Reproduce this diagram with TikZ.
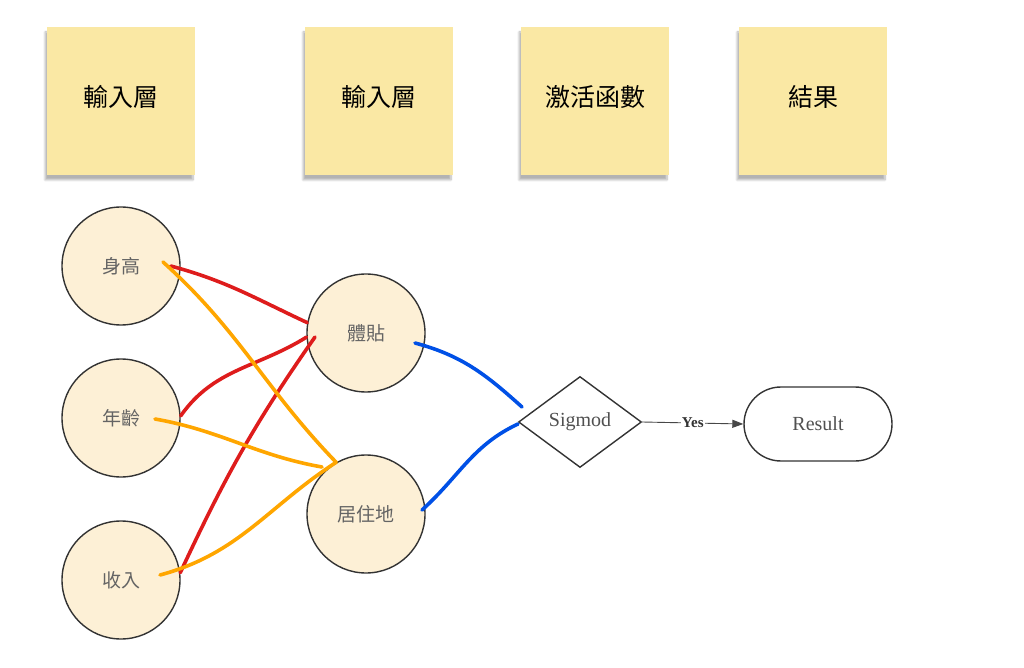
\documentclass[tikz,border=0pt]{standalone}
\usepackage{fontspec}
\setmainfont{Liberation Serif}
\newfontfamily\cjk{Noto Sans CJK TC}
\usetikzlibrary{shapes.geometric,arrows.meta,shadows.blur}
\definecolor{notefill}{RGB}{250,232,164}
\definecolor{cellfill}{RGB}{253,240,214}
\definecolor{edge}{RGB}{51,51,51}
\definecolor{inktext}{RGB}{100,100,100}
\definecolor{redink}{RGB}{222,28,28}
\definecolor{orangeink}{RGB}{255,166,0}
\definecolor{blueink}{RGB}{0,80,230}
\begin{document}
\begin{tikzpicture}[
  x=1pt, y=1pt,
  note/.style={fill=notefill, minimum width=148pt, minimum height=148pt, inner sep=0pt,
    blur shadow={shadow blur steps=8, shadow xshift=-2pt, shadow yshift=-5pt, shadow opacity=30}},
  notetext/.style={font=\cjk\fontsize{25}{30}\selectfont, yshift=4pt},
  neuron/.style={circle, draw=edge, line width=1.4pt, fill=cellfill, minimum size=118pt,
    inner sep=0pt, text=inktext, font=\cjk\fontsize{19}{23}\selectfont},
  decide/.style={diamond, draw=edge, line width=1.4pt, fill=white, minimum width=123pt,
    minimum height=91pt, inner sep=0pt, text=inktext!80!black, font=\fontsize{20}{24}\selectfont},
  term/.style={draw=edge, line width=1.4pt, rounded corners=37pt, minimum width=148pt,
    minimum height=74pt, text=inktext!80!black, font=\fontsize{20}{24}\selectfont},
  wire/.style={line width=3.6pt, line cap=round}
]
\useasboundingbox (0,0) rectangle (1024,667);

% ---- sticky notes ----
\foreach \x/\lab/\nm in {121/輸入層/n1, 379/輸入層/n2, 595/激活函數/n3, 813/結果/n4}
{
  \node[note, label={[notetext]center:\lab}] (\nm) at (\x,566) {};
}

% ---- neurons ----
\node[neuron] (h1) at (121,401) {身高};
\node[neuron] (h2) at (121,249) {年齡};
\node[neuron] (h3) at (121,87)  {收入};
\node[neuron] (t1) at (366,334) {體貼};
\node[neuron] (t2) at (366,153) {居住地};

% ---- output ----
\node[decide] (sig) at (580,245) {Sigmod};
\node[term]   (res) at (818,243) {Result};
\draw[edge!90, line width=0.9pt, -{Triangle[length=11pt,width=8pt]}]
  (sig.east) -- node[fill=white, inner sep=1pt, font=\bfseries\fontsize{15}{17}\selectfont, text=edge] {Yes} (res.west);

% ---- hand drawn strokes ----
\draw[wire, redink] ([xshift=-10pt]h1.east) to[out=-15, in=155] (t1.170);
\draw[wire, redink] (h2.2) to[out=55, in=212] (t1.184);
\draw[wire, redink] (h3.7) to[out=65, in=235] ([shift={(-51,-4)}]t1.center);
\draw[wire, orangeink] ([shift={(42,4)}]h1.center) to[out=-42, in=134] (t2.120);
\draw[wire, orangeink] ([shift={(34,-1)}]h2.center) to[out=-10, in=170] ([shift={(-44,47)}]t2.center);
\draw[wire, orangeink] ([shift={(39,5)}]h3.center) to[out=15, in=213] (t2.120);
\draw[wire, blueink] ([shift={(49,-10)}]t1.center) to[out=-15, in=138] ([shift={(-58,15)}]sig.center);
\draw[wire, blueink] ([shift={(56,4)}]t2.center) to[out=42, in=205] ([shift={(-62,-2)}]sig.center);
\end{tikzpicture}
\end{document}
